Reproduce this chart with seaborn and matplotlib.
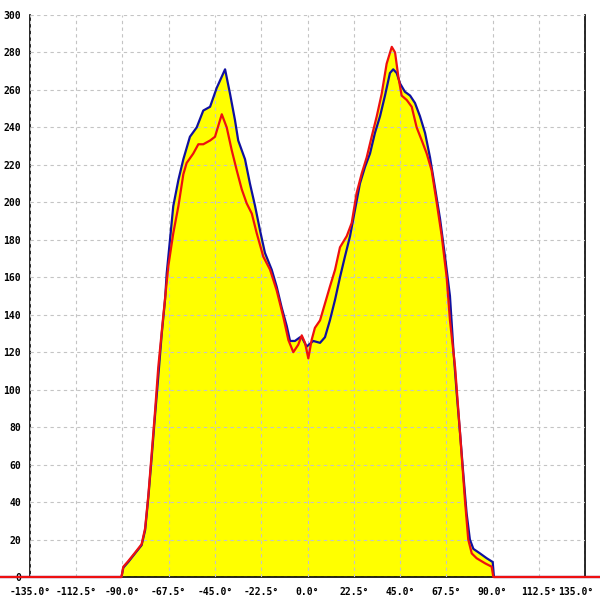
import matplotlib
matplotlib.use("Agg")
import matplotlib.pyplot as plt
import matplotlib.transforms as mtransforms
import seaborn as sns
import pandas as pd
from matplotlib.ticker import FuncFormatter

# ---- data ----
blue_deg = [-180, -90.5, -89.6, -87.2, -83.9, -80.7, -79, -77.4, -75.8, -74.2, -72.6, -70.9, -69.3,
            -68.5, -66.9, -65.3, -62.8, -60.4, -57.2, -53.9, -50.7, -47.4, -44.2, -40.1, -37.7,
            -35.3, -33.7, -30.4, -28, -25.5, -23.1, -20.7, -17.4, -15, -12.6, -10.1, -8.5, -6.1,
            -3.6, -2.8, -0.4, 2.8, 6.1, 8.5, 10.9, 13.4, 15.8, 18.2, 20.7, 23.1, 25.5, 28, 30.4,
            32.8, 35.3, 37.7, 40.1, 41.7, 43.4, 45, 47.4, 49.9, 52.3, 54.7, 57.2, 59.6, 62, 64.5,
            66.9, 69.3, 71, 72.6, 74.2, 75.8, 77.4, 79, 80.7, 83.9, 87.2, 90.1, 90.7, 180]
blue_val = [0, 0, 5, 8, 12.6, 17, 25, 43, 64, 86, 107, 130, 148,
            162, 180, 198, 212, 223, 235, 240, 249, 251, 261, 271, 258,
            244, 233, 223, 210, 198, 185, 173, 164, 155, 144, 134, 126, 126,
            128, 128, 123, 126, 125, 128, 137, 148, 160, 171, 182, 196, 210, 219, 226,
            237, 246, 257, 269, 271, 269, 263.5, 259, 257, 253, 246, 237, 224, 208, 191,
            171, 150, 121, 98, 77, 55, 34, 20, 15, 12.6, 10, 8, 0, 0]

red_deg = [-180, -90.5, -89.6, -87.2, -83.9, -80.7, -79, -77.4, -75.8, -74.2, -72.6, -70.1, -67.7,
           -65.3, -62.8, -60.4, -58.8, -55.6, -53.1, -50.7, -47.4, -45, -41.7, -39.3, -36.9,
           -34.4, -32, -29.6, -27.1, -24.7, -21.5, -18.2, -15, -11.8, -9.3, -6.9, -4.5, -2.8,
           -1.2, 0.4, 2, 3.6, 6.1, 8.5, 10.9, 13.4, 15.8, 19.1, 21.5, 23.9, 26.4, 28.8, 31.2,
           33.7, 36.1, 38.5, 41, 42.6, 44.2, 45.8, 48.3, 50.7, 53.1, 55.6, 58, 60.4, 62.9, 65.3,
           67.7, 69.3, 71.8, 74.2, 76.6, 78.2, 79.9, 82.3, 86.4, 89.6, 90.4, 180]
red_val = [0, 0, 5.5, 8.5, 13, 17.5, 26, 44, 66, 88, 112, 140, 166,
           183.5, 198, 215, 221, 226, 231, 231, 233, 235, 247, 240, 228,
           217, 207, 199.5, 194, 183.5, 171, 164, 153, 139, 126.5, 120, 124, 129,
           125, 116.7, 126.5, 133, 137, 146, 155, 164, 176, 182, 189, 205, 215.5, 224, 235,
           246, 258, 274, 283, 280, 267, 257, 254.6, 251, 240, 233, 226, 217, 199.5, 182,
           160, 137, 112, 77, 41, 20, 12.6, 10, 7.3, 5.5, 0, 0]

x_ticks = [-135, -112.5, -90, -67.5, -45, -22.5, 0, 22.5, 45, 67.5, 90, 112.5, 135]
y_ticks = list(range(0, 301, 20))

blue_df = pd.DataFrame({"deg": blue_deg, "val": blue_val})
red_df = pd.DataFrame({"deg": red_deg, "val": red_val})

# ---- figure ----
sns.set_style("white")
plt.rcParams["font.family"] = ["DejaVu Sans Mono", "DejaVu Sans"]

fig = plt.figure(figsize=(6, 6), dpi=100)
ax = fig.add_axes([30 / 600, 1 - 577 / 600, 555 / 600, 562 / 600])

ax.fill_between(blue_df["deg"], 0, blue_df["val"], color="#ffff00", linewidth=0, zorder=1)
ax.fill_between(red_df["deg"], 0, red_df["val"], color="#ffff00", linewidth=0, zorder=1)

sns.lineplot(data=blue_df, x="deg", y="val", ax=ax, color="#1010a0", linewidth=1.6,
             sort=False, estimator=None, zorder=3)
sns.lineplot(data=red_df, x="deg", y="val", ax=ax, color="#ee1010", linewidth=1.6,
             sort=False, estimator=None, zorder=4)
for ln in ax.lines:
    ln.set_clip_on(False)

ax.set_xlim(-135, 135)
ax.set_ylim(0, 300)
ax.set_xticks(x_ticks)
ax.set_yticks(y_ticks)
ax.xaxis.set_major_formatter(FuncFormatter(lambda v, p: f"{v:.1f}°"))
ax.yaxis.set_major_formatter(FuncFormatter(lambda v, p: f"{int(v)}"))
ax.set_xlabel("")
ax.set_ylabel("")

ax.set_axisbelow(False)
ax.grid(True, color="#c4c4c4", linestyle=(0, (3, 3)), linewidth=0.8, zorder=2)

for s in ["left", "right", "bottom"]:
    ax.spines[s].set_visible(True)
    ax.spines[s].set_color("black")
    ax.spines[s].set_linewidth(1.2)
ax.spines["top"].set_visible(False)

ax.tick_params(axis="x", direction="out", length=5, width=1.2, colors="black",
               labelsize=7, pad=2)
ax.tick_params(axis="y", direction="inout", length=7, width=1.2, colors="black",
               labelsize=7, pad=3)
for lab in ax.get_xticklabels() + ax.get_yticklabels():
    lab.set_fontweight("bold")

# keep the last x label inside the figure, as in the reference
fig.canvas.draw()
last = ax.get_xticklabels()[-1]
last.set_transform(last.get_transform() +
                   mtransforms.ScaledTranslation(-9 / 100, 0, fig.dpi_scale_trans))

fig.savefig("out.png", dpi=100)
